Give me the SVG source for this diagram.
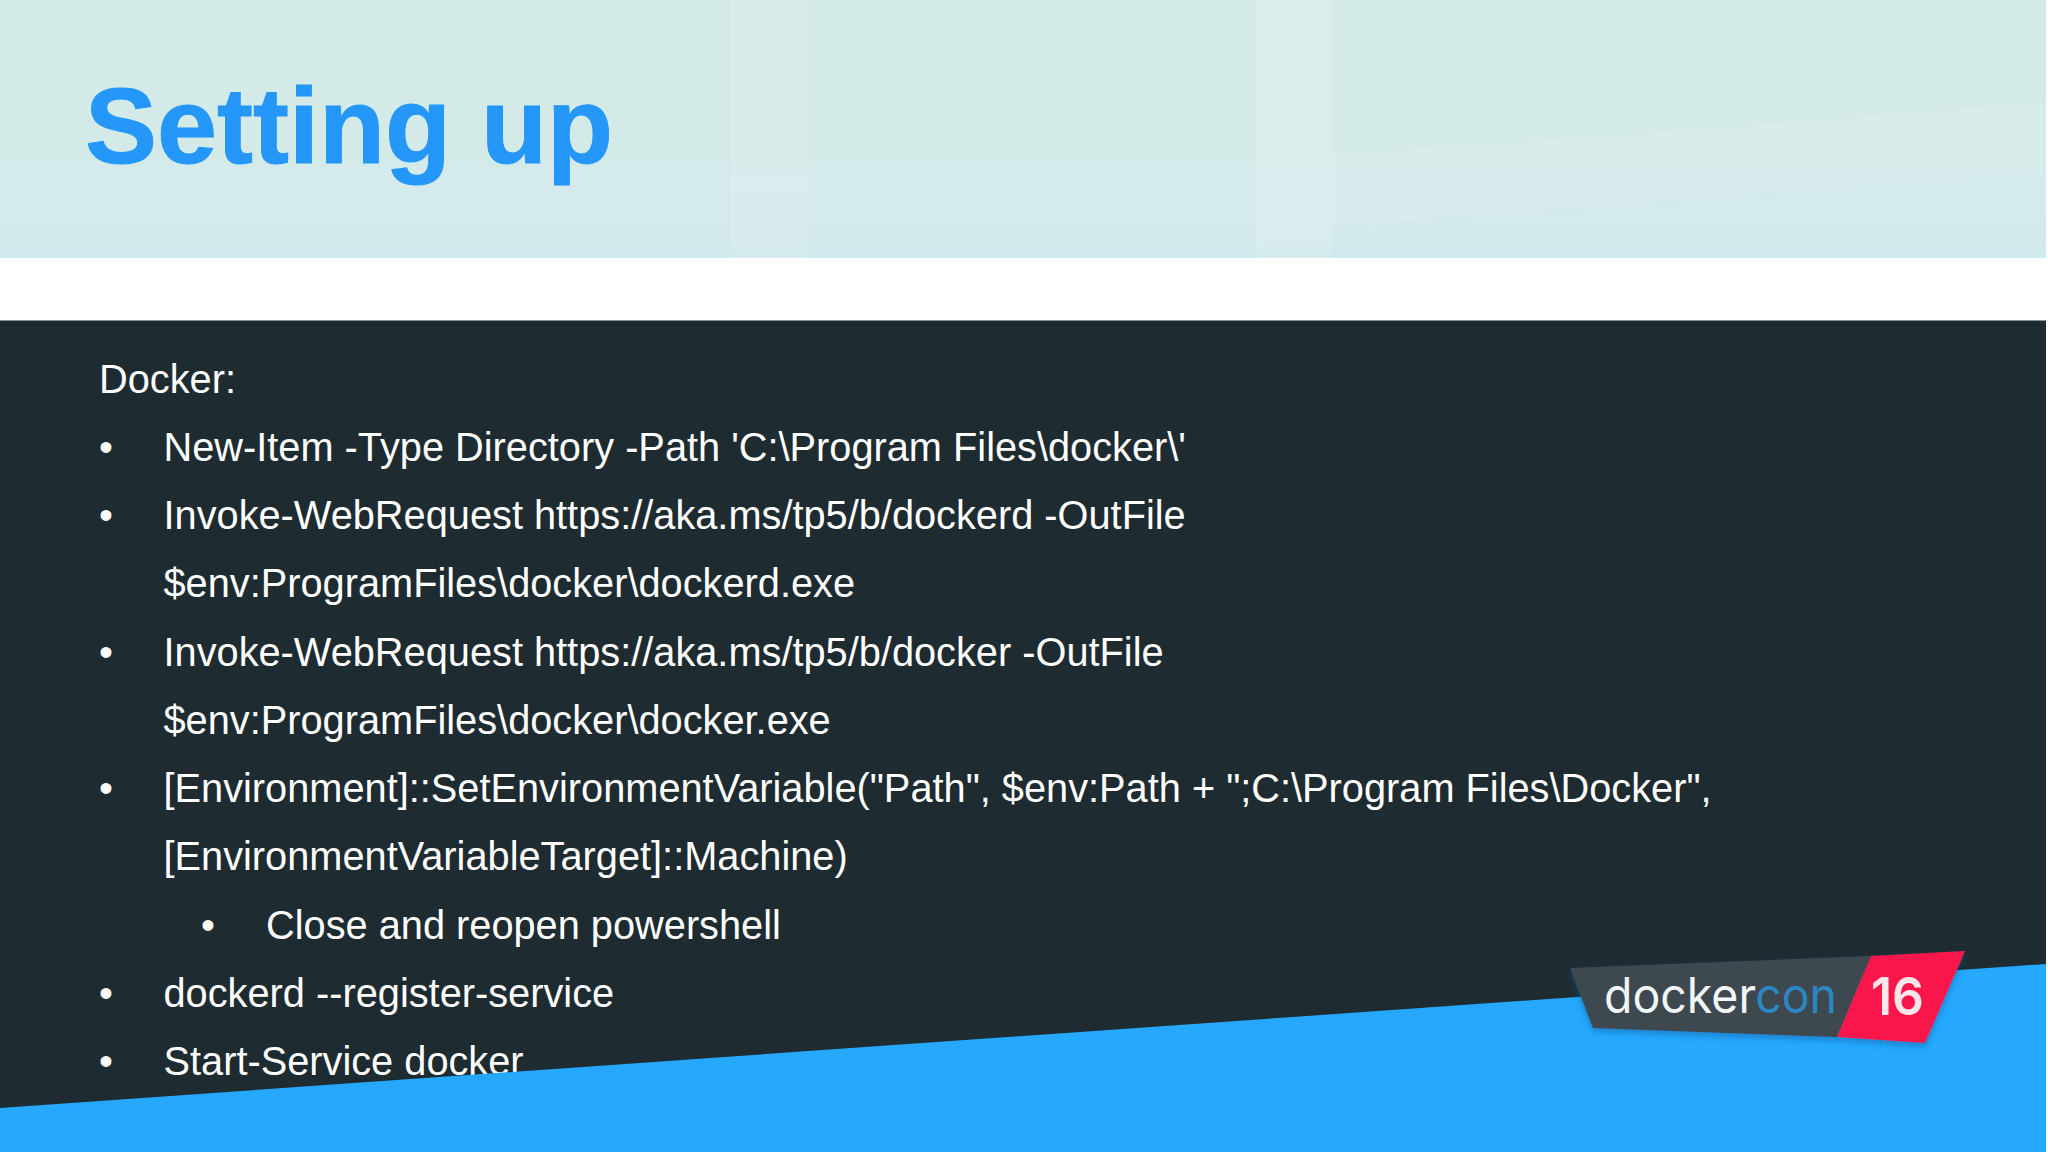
<svg xmlns="http://www.w3.org/2000/svg" width="2048" height="1152" viewBox="0 0 2048 1152">
<defs>
<linearGradient id="hdr" x1="0" y1="0" x2="0" y2="1"><stop offset="0" stop-color="#d4eae7"/><stop offset="0.6" stop-color="#d4eae9"/><stop offset="0.68" stop-color="#d4eaec"/><stop offset="0.94" stop-color="#d3e9ec"/><stop offset="1" stop-color="#cdeaed"/></linearGradient>
<filter id="sh" x="-5%" y="-5%" width="110%" height="120%"><feDropShadow dx="0" dy="3" stdDeviation="3" flood-color="#0a5a96" flood-opacity="0.55"/></filter>
</defs>
<style>
.b{font-family:"Liberation Sans",Arial,sans-serif;font-size:39.75px;fill:#ffffff}
.l{font-family:Inter,"Open Sans",sans-serif;font-size:49px}
</style>
<rect width="2048" height="1152" fill="#ffffff"/>
<g id="header">
<rect x="0" y="0" width="2046" height="258" fill="url(#hdr)"/>
<rect x="730" y="0" width="78" height="258" fill="#ffffff" opacity="0.12"/>
<rect x="1257" y="0" width="75" height="258" fill="#ffffff" opacity="0.14"/>
<polygon points="1332,152 1600,135 1800,120 2046,100 2046,175 1800,192 1600,208 1332,228" fill="#ffffff" opacity="0.09"/>
<text x="85" y="163" style="font-family:'Liberation Sans',Arial,sans-serif;font-size:108px;font-weight:700;fill:#2497f8;stroke:#2497f8;stroke-width:1">Setting up</text>
</g>
<g id="body">
<rect x="0" y="320" width="2046" height="832" fill="#1e2b30"/>
<rect x="0" y="320" width="2046" height="1" fill="#8b9194"/>
<text class="b" x="99" y="393">Docker:</text>
<text class="b" x="99" y="461">•</text><text class="b" x="163.500" y="461">New-Item -Type Directory -Path 'C:\Program Files\docker\'</text>
<text class="b" x="99" y="529">•</text><text class="b" x="163.500" y="529">Invoke-WebRequest https://aka.ms/tp5/b/dockerd -OutFile</text>
<text class="b" x="163.500" y="597">$env:ProgramFiles\docker\dockerd.exe</text>
<text class="b" x="99" y="666">•</text><text class="b" x="163.500" y="666">Invoke-WebRequest https://aka.ms/tp5/b/docker -OutFile</text>
<text class="b" x="163.500" y="734">$env:ProgramFiles\docker\docker.exe</text>
<text class="b" x="99" y="802">•</text><text class="b" x="163.500" y="802">[Environment]::SetEnvironmentVariable("Path", $env:Path + ";C:\Program Files\Docker",</text>
<text class="b" x="163.500" y="870">[EnvironmentVariableTarget]::Machine)</text>
<text class="b" x="201" y="939">•</text><text class="b" x="266" y="939">Close and reopen powershell</text>
<text class="b" x="99" y="1007">•</text><text class="b" x="163.500" y="1007">dockerd --register-service</text>
<text class="b" x="99" y="1075">•</text><text class="b" x="163.500" y="1075">Start-Service docker</text>
</g>
<g id="footer">
<polygon points="0,1108 2046,964 2046,1152 0,1152" fill="#25a8fe"/>
</g>
<g id="logo">
<g filter="url(#sh)">
<polygon points="1570,968 1871,956 1837,1037 1593,1028" fill="#3c4850"/>
<polygon points="1871,956 1965,951 1925,1043 1837,1037" fill="#f8174b"/>
</g>
<text class="l" x="1604" y="1013" textLength="233" lengthAdjust="spacingAndGlyphs" fill="#f2f6f8">docker<tspan fill="#2c86c4">con</tspan></text>
<text x="1871" y="1015" textLength="53" lengthAdjust="spacingAndGlyphs" style="font-family:Inter,'Open Sans',sans-serif;font-size:52px;font-weight:600;fill:#fde6ea">16</text>
</g>
<rect x="2046" y="0" width="2" height="1152" fill="#ffffff"/>
</svg>
